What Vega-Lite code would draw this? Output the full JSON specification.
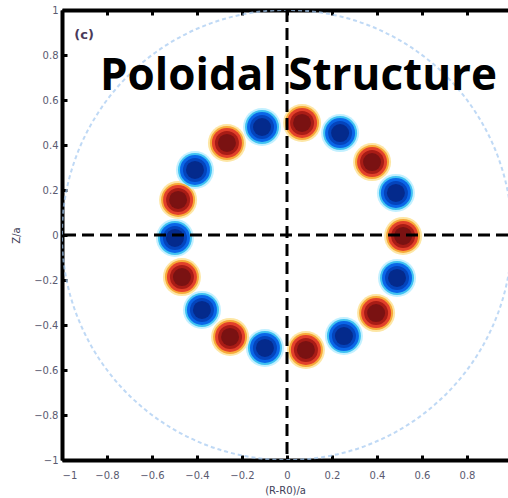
{
  "$schema": "https://vega.github.io/schema/vega-lite/v6.json",
  "autosize": "none",
  "width": 446,
  "height": 450,
  "padding": {"left": 62, "top": 10, "right": 0, "bottom": 38},
  "background": "white",
  "config": {
    "view": {"stroke": null},
    "axis": {
      "grid": false,
      "domainColor": "black",
      "domainWidth": 4,
      "tickColor": "black",
      "tickWidth": 3,
      "tickSize": -5,
      "labelFontSize": 10,
      "labelColor": "#5a5a70",
      "labelFont": "DejaVu Sans",
      "titleFont": "DejaVu Sans",
      "titleFontSize": 10,
      "titleFontWeight": "normal",
      "titleColor": "#404058"
    }
  },
  "datasets": {
    "ring": [{"x": 0, "y": 0}],
    "blobs": [
      {"x": 0.067, "y": 0.498, "s": 1},
      {"x": 0.236, "y": 0.453, "s": -1},
      {"x": 0.378, "y": 0.324, "s": 1},
      {"x": 0.484, "y": 0.187, "s": -1},
      {"x": 0.516, "y": -0.004, "s": 1},
      {"x": 0.489, "y": -0.191, "s": -1},
      {"x": 0.396, "y": -0.347, "s": 1},
      {"x": 0.253, "y": -0.449, "s": -1},
      {"x": 0.084, "y": -0.511, "s": 1},
      {"x": -0.098, "y": -0.502, "s": -1},
      {"x": -0.253, "y": -0.453, "s": 1},
      {"x": -0.378, "y": -0.333, "s": -1},
      {"x": -0.467, "y": -0.187, "s": 1},
      {"x": -0.498, "y": -0.013, "s": -1},
      {"x": -0.484, "y": 0.156, "s": 1},
      {"x": -0.409, "y": 0.289, "s": -1},
      {"x": -0.267, "y": 0.409, "s": 1},
      {"x": -0.111, "y": 0.480, "s": -1}
    ],
    "zero": [{"x": 0, "y": 0}],
    "labels": [
      {"x": 0.051, "y": 0.644, "t": "Poloidal Structure", "k": "title"},
      {"x": -0.902, "y": 0.889, "t": "(c)", "k": "tag"}
    ]
  },
  "resolve": {"axis": {"x": "independent", "y": "independent"}},
  "layer": [
    {
      "data": {"name": "ring"},
      "mark": {"type": "point", "shape": "circle", "filled": false, "stroke": "#a4c9f2", "strokeWidth": 2, "strokeDash": [4, 3], "clip": true},
      "encoding": {
        "x": {"field": "x", "type": "quantitative", "scale": {"domain": [-1, 0.9822], "nice": false, "zero": false},
          "axis": {"orient": "bottom", "values": [-1, -0.8, -0.6, -0.4, -0.2, 0, 0.2, 0.4, 0.6, 0.8], "format": "~g", "labelPadding": 15, "title": "(R-R0)/a", "titlePadding": 5}},
        "y": {"field": "y", "type": "quantitative", "scale": {"domain": [-1, 1], "nice": false, "zero": false},
          "axis": {"orient": "left", "values": [-1, -0.8, -0.6, -0.4, -0.2, 0, 0.2, 0.4, 0.6, 0.8, 1], "format": "~g", "labelPadding": 9, "title": "Z/a", "titlePadding": 12}},
        "size": {"value": 202500}
      }
    },
    {
      "data": {"name": "blobs"},
      "mark": {"type": "point", "shape": "circle", "filled": true, "opacity": 1},
      "encoding": {
        "x": {"field": "x", "type": "quantitative", "axis": null},
        "y": {"field": "y", "type": "quantitative", "axis": null},
        "size": {"value": 1444},
        "color": {"condition": {"test": "datum.s > 0", "value": "#fde6a4"}, "value": "#c2f0ff"}
      }
    },
    {
      "data": {"name": "blobs"},
      "mark": {"type": "point", "shape": "circle", "filled": true, "opacity": 1},
      "encoding": {
        "x": {"field": "x", "type": "quantitative", "axis": null},
        "y": {"field": "y", "type": "quantitative", "axis": null},
        "size": {"value": 1156},
        "color": {"condition": {"test": "datum.s > 0", "value": "#f7aa3a"}, "value": "#40c2f2"}
      }
    },
    {
      "data": {"name": "blobs"},
      "mark": {"type": "point", "shape": "circle", "filled": true, "opacity": 1},
      "encoding": {
        "x": {"field": "x", "type": "quantitative", "axis": null},
        "y": {"field": "y", "type": "quantitative", "axis": null},
        "size": {"value": 900},
        "color": {"condition": {"test": "datum.s > 0", "value": "#e2402a"}, "value": "#0a66e8"}
      }
    },
    {
      "data": {"name": "blobs"},
      "mark": {"type": "point", "shape": "circle", "filled": true, "opacity": 1},
      "encoding": {
        "x": {"field": "x", "type": "quantitative", "axis": null},
        "y": {"field": "y", "type": "quantitative", "axis": null},
        "size": {"value": 576},
        "color": {"condition": {"test": "datum.s > 0", "value": "#a81c16"}, "value": "#0444bc"}
      }
    },
    {
      "data": {"name": "blobs"},
      "mark": {"type": "point", "shape": "circle", "filled": true, "opacity": 1},
      "encoding": {
        "x": {"field": "x", "type": "quantitative", "axis": null},
        "y": {"field": "y", "type": "quantitative", "axis": null},
        "size": {"value": 324},
        "color": {"condition": {"test": "datum.s > 0", "value": "#7a1212"}, "value": "#042a8c"}
      }
    },
    {
      "data": {"name": "zero"},
      "mark": {"type": "rule", "color": "black", "strokeWidth": 3, "strokeDash": [12, 6]},
      "encoding": {
        "x": {"field": "x", "type": "quantitative",
          "axis": {"orient": "top", "values": [-1, -0.8, -0.6, -0.4, -0.2, 0, 0.2, 0.4, 0.6, 0.8], "labels": false, "title": null}}
      }
    },
    {
      "data": {"name": "zero"},
      "mark": {"type": "rule", "color": "black", "strokeWidth": 3, "strokeDash": [12, 6]},
      "encoding": {
        "y": {"field": "y", "type": "quantitative", "axis": null}
      }
    },
    {
      "data": {"name": "labels"},
      "transform": [{"filter": "datum.k === 'title'"}],
      "mark": {"type": "text", "font": "Open Sans", "fontWeight": "bold", "fontSize": 44, "color": "black", "align": "center", "baseline": "alphabetic"},
      "encoding": {
        "x": {"field": "x", "type": "quantitative", "axis": null},
        "y": {"field": "y", "type": "quantitative", "axis": null},
        "text": {"field": "t"}
      }
    },
    {
      "data": {"name": "labels"},
      "transform": [{"filter": "datum.k === 'tag'"}],
      "mark": {"type": "text", "font": "DejaVu Sans", "fontWeight": "bold", "fontSize": 13, "color": "#4a3a5a", "align": "center", "baseline": "middle"},
      "encoding": {
        "x": {"field": "x", "type": "quantitative", "axis": null},
        "y": {"field": "y", "type": "quantitative", "axis": null},
        "text": {"field": "t"}
      }
    }
  ]
}
